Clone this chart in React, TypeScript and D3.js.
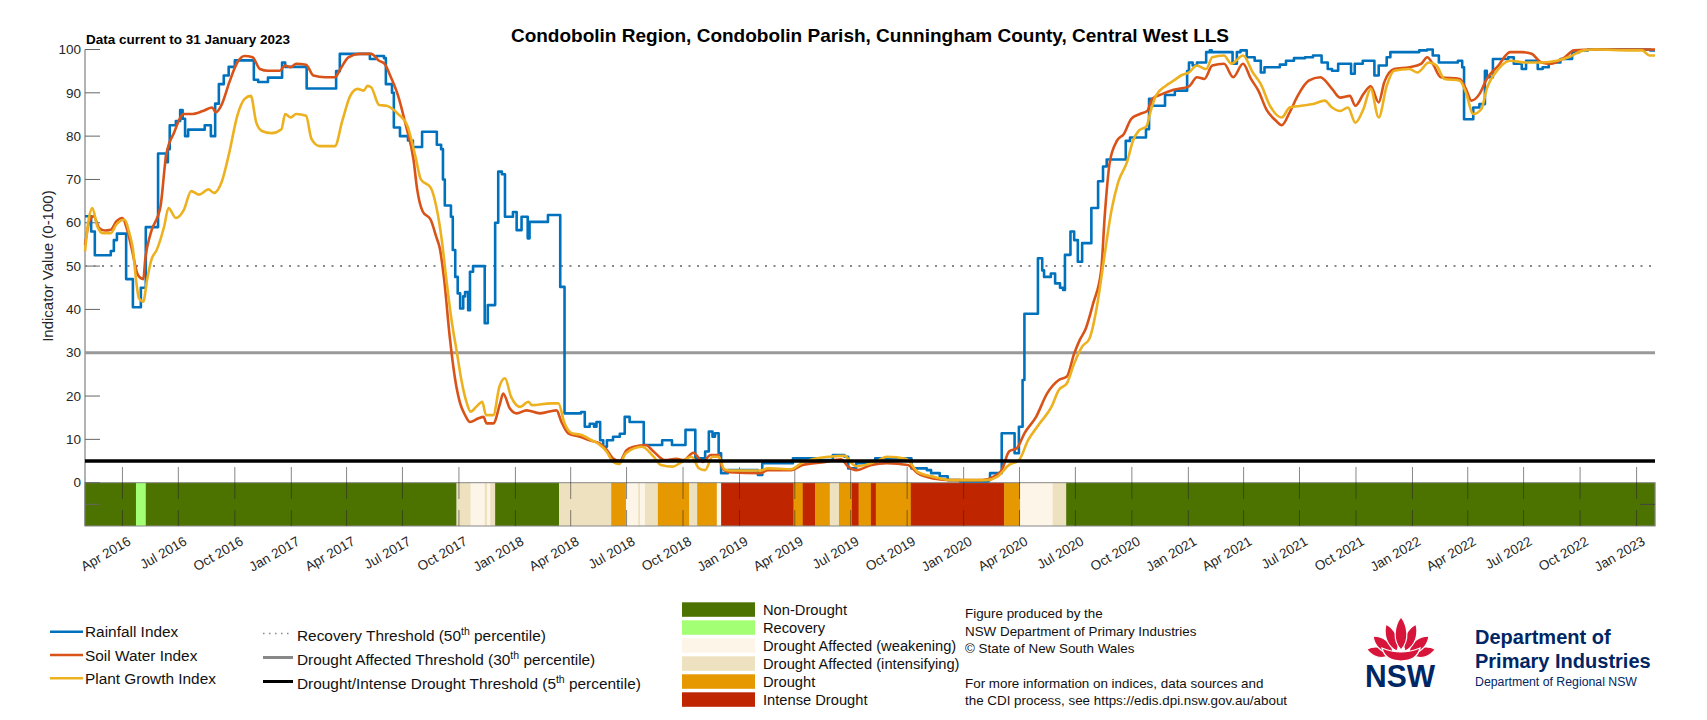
import * as d3 from "d3";

type Pt = [string, number];

const title = "Condobolin Region, Condobolin Parish, Cunningham County, Central West LLS";
const currentNote = "Data current to 31 January 2023";
const yLabel = "Indicator Value (0-100)";
const startDate = "2016-01-31";
const endDate = "2023-01-31";

// Rainfall Index - stepped, value holds until next date
const rainfallIndex: Pt[] = [
  ["2016-01-31", 61.5], ["2016-02-10", 58], ["2016-02-16", 52.5], ["2016-03-13", 53.5], ["2016-03-18", 56],
  ["2016-03-23", 57.5], ["2016-04-07", 47], ["2016-04-18", 40.5], ["2016-05-01", 45], ["2016-05-09", 59],
  ["2016-05-29", 76], ["2016-06-11", 74], ["2016-06-14", 77], ["2016-06-17", 82.5], ["2016-06-27", 83.5],
  ["2016-07-04", 86], ["2016-07-08", 84], ["2016-07-12", 80], ["2016-07-17", 81.5], ["2016-08-13", 82.5],
  ["2016-08-23", 80], ["2016-08-30", 87.5], ["2016-09-05", 92], ["2016-09-13", 94], ["2016-09-21", 96],
  ["2016-10-01", 97.5], ["2016-11-01", 93], ["2016-11-08", 92.5], ["2016-11-24", 93.5], ["2016-12-17", 97],
  ["2016-12-22", 96], ["2017-01-26", 91], ["2017-03-15", 95], ["2017-03-21", 99], ["2017-05-09", 97.8],
  ["2017-05-19", 98.5], ["2017-06-01", 98], ["2017-06-04", 92], ["2017-06-14", 90], ["2017-06-17", 82],
  ["2017-06-27", 80], ["2017-07-10", 79], ["2017-07-18", 77.5], ["2017-08-02", 81], ["2017-08-26", 78],
  ["2017-09-02", 77], ["2017-09-05", 70], ["2017-09-08", 64], ["2017-09-18", 61.4], ["2017-09-21", 53.7],
  ["2017-09-25", 47.5], ["2017-09-29", 43.7], ["2017-10-03", 40.2], ["2017-10-08", 43], ["2017-10-11", 44],
  ["2017-10-16", 39.8], ["2017-10-19", 48.7], ["2017-10-24", 50], ["2017-11-12", 36.8], ["2017-11-17", 41],
  ["2017-11-29", 60], ["2017-12-04", 71.8], ["2017-12-10", 71.2], ["2017-12-15", 61.4], ["2017-12-28", 62.5],
  ["2018-01-03", 58.3], ["2018-01-11", 61.4], ["2018-01-21", 56.4], ["2018-01-24", 60.2], ["2018-02-23", 61.8],
  ["2018-03-15", 45.2], ["2018-03-22", 16], ["2018-04-18", 16.3], ["2018-04-24", 12.9], ["2018-05-02", 13.6],
  ["2018-05-09", 12.9], ["2018-05-13", 14], ["2018-05-19", 9.8], ["2018-05-24", 8.3], ["2018-05-30", 9.8],
  ["2018-06-09", 10.6], ["2018-06-20", 11.3], ["2018-06-28", 15.2], ["2018-07-06", 14], ["2018-07-29", 8.7],
  ["2018-08-28", 9.8], ["2018-09-13", 8.7], ["2018-10-05", 12.2], ["2018-10-21", 5.6], ["2018-11-06", 7.2],
  ["2018-11-12", 11.8], ["2018-11-18", 10.6], ["2018-11-22", 11.4], ["2018-11-28", 6.8], ["2018-12-02", 2.2],
  ["2018-12-13", 2.9], ["2019-01-31", 1.8], ["2019-02-07", 4.5], ["2019-03-29", 5.6], ["2019-05-09", 5.2],
  ["2019-06-02", 6.4], ["2019-06-21", 6], ["2019-06-27", 3.3], ["2019-07-10", 4.5], ["2019-08-10", 5.6],
  ["2019-10-08", 3.3], ["2019-11-02", 2.9], ["2019-11-09", 2.2], ["2019-11-23", 1.5], ["2019-12-06", 0.6],
  ["2019-12-26", 0.3], ["2020-02-10", 0.6], ["2020-02-13", 2.2], ["2020-03-03", 11.4], ["2020-03-24", 6.8],
  ["2020-03-31", 12.9], ["2020-04-06", 23.7], ["2020-04-09", 39], ["2020-05-01", 51.8], ["2020-05-08", 49],
  ["2020-05-11", 47.5], ["2020-05-22", 48.3], ["2020-05-29", 46], ["2020-06-06", 45], ["2020-06-11", 44.5],
  ["2020-06-14", 52.6], ["2020-06-23", 58], ["2020-06-29", 56], ["2020-07-05", 51], ["2020-07-12", 55.3],
  ["2020-07-27", 63.4], ["2020-08-07", 69.6], ["2020-08-15", 73], ["2020-08-21", 74.6], ["2020-09-21", 78.9],
  ["2020-09-28", 79.7], ["2020-10-24", 81.6], ["2020-10-29", 88.6], ["2020-11-03", 87], ["2020-11-24", 89.5],
  ["2020-12-10", 90.5], ["2020-12-30", 95], ["2021-01-02", 97], ["2021-01-08", 96.3], ["2021-01-15", 97],
  ["2021-01-30", 99.4], ["2021-02-05", 99.8], ["2021-02-08", 99.4], ["2021-03-14", 96.7], ["2021-03-21", 99.4],
  ["2021-03-27", 99.8], ["2021-04-06", 98.2], ["2021-04-19", 97.4], ["2021-04-29", 94.7], ["2021-05-05", 95.9],
  ["2021-05-30", 96.5], ["2021-06-09", 97.4], ["2021-06-22", 98], ["2021-07-10", 98.2], ["2021-07-23", 98.6],
  ["2021-08-06", 97], ["2021-08-16", 95.5], ["2021-08-23", 95.1], ["2021-09-02", 96.7], ["2021-09-23", 94.4],
  ["2021-09-29", 96.7], ["2021-10-12", 97.4], ["2021-10-31", 94], ["2021-11-07", 96.3], ["2021-11-20", 98.2],
  ["2021-11-26", 99.4], ["2022-01-12", 99.8], ["2022-01-25", 100], ["2022-02-03", 98.6], ["2022-02-13", 97],
  ["2022-03-16", 97.4], ["2022-03-23", 95.9], ["2022-03-26", 83.9], ["2022-04-10", 86.6], ["2022-04-20", 87.4],
  ["2022-04-29", 95.1], ["2022-05-02", 93.6], ["2022-05-12", 97.8], ["2022-06-06", 98.2], ["2022-06-15", 96.7],
  ["2022-06-28", 95.5], ["2022-07-05", 97.4], ["2022-07-24", 95.5], ["2022-08-01", 95.9], ["2022-08-11", 97],
  ["2022-08-30", 97.8], ["2022-09-18", 99.4], ["2022-09-30", 99.8], ["2022-10-14", 100], ["2023-01-23", 99.8],
  ["2023-01-31", 99.8],
];

const soilWaterIndex: Pt[] = [
  ["2016-01-31", 54.9], ["2016-02-08", 60.7], ["2016-02-14", 61.5], ["2016-02-23", 58.8], ["2016-03-03", 58.2],
  ["2016-03-13", 58.4], ["2016-03-22", 60.3], ["2016-04-01", 61.1], ["2016-04-07", 59.2], ["2016-04-16", 54.1],
  ["2016-04-26", 48], ["2016-05-05", 47], ["2016-05-08", 51.4], ["2016-05-17", 57.6], ["2016-06-02", 63.8],
  ["2016-06-11", 75.4], ["2016-06-24", 80.8], ["2016-07-10", 85.1], ["2016-07-22", 85.1], ["2016-08-10", 85.8],
  ["2016-08-25", 86.6], ["2016-08-31", 85.5], ["2016-09-10", 87.4], ["2016-09-22", 92.4], ["2016-10-05", 97],
  ["2016-10-17", 98.5], ["2016-10-30", 98.2], ["2016-11-11", 95.5], ["2016-11-24", 95.1], ["2016-12-13", 95.1],
  ["2016-12-22", 96.3], ["2016-12-31", 95.9], ["2017-01-09", 96.7], ["2017-01-25", 96.5], ["2017-02-06", 94],
  ["2017-02-25", 93.6], ["2017-03-13", 93.6], ["2017-03-22", 95.5], ["2017-04-04", 98.2], ["2017-04-22", 99],
  ["2017-05-11", 99], ["2017-05-24", 97.4], ["2017-06-02", 96.7], ["2017-06-11", 94], ["2017-06-24", 89.3],
  ["2017-07-06", 82.8], ["2017-07-19", 74.6], ["2017-07-25", 67.7], ["2017-08-03", 62.6], ["2017-08-16", 60.7],
  ["2017-08-25", 56.8], ["2017-08-31", 54], ["2017-09-07", 46.8], ["2017-09-16", 33.7], ["2017-09-25", 23.7],
  ["2017-10-03", 18.3], ["2017-10-11", 15.6], ["2017-10-19", 14], ["2017-11-01", 14.8], ["2017-11-10", 15.2],
  ["2017-11-15", 13.7], ["2017-11-26", 13.7], ["2017-12-07", 18.3], ["2017-12-12", 20.6], ["2017-12-23", 17.1],
  ["2018-01-03", 16], ["2018-01-19", 16.7], ["2018-02-10", 16], ["2018-03-09", 16.7], ["2018-03-17", 14],
  ["2018-03-28", 11.4], ["2018-04-16", 10.6], ["2018-05-02", 9.8], ["2018-05-19", 9], ["2018-05-30", 7.5],
  ["2018-06-09", 5.6], ["2018-06-20", 5], ["2018-07-01", 7.5], ["2018-07-13", 8.3], ["2018-08-01", 8.7],
  ["2018-08-14", 7.2], ["2018-09-01", 5.2], ["2018-09-20", 5.5], ["2018-10-02", 5.2], ["2018-10-18", 6.9],
  ["2018-11-02", 4.8], ["2018-11-15", 6.4], ["2018-11-28", 6.4], ["2018-12-04", 3.3], ["2018-12-16", 2.4],
  ["2019-02-04", 2.2], ["2019-02-16", 2.9], ["2019-03-26", 2.9], ["2019-04-14", 4.1], ["2019-05-21", 4.8],
  ["2019-06-15", 5.4], ["2019-06-27", 3.7], ["2019-07-10", 2.9], ["2019-08-04", 4.1], ["2019-08-29", 4.5],
  ["2019-10-02", 4.1], ["2019-10-18", 2.2], ["2019-11-12", 1], ["2019-12-13", 0.6], ["2020-01-31", 0.6],
  ["2020-02-19", 1.4], ["2020-03-03", 2.9], ["2020-03-15", 7.2], ["2020-03-28", 8], ["2020-04-09", 11.4],
  ["2020-04-28", 15.2], ["2020-05-16", 20.6], ["2020-06-04", 23.7], ["2020-06-17", 24.5], ["2020-06-29", 29.8],
  ["2020-07-08", 32.9], ["2020-07-18", 35.6], ["2020-07-30", 41.4], ["2020-08-12", 49], ["2020-08-18", 62],
  ["2020-08-26", 74], ["2020-09-07", 79], ["2020-09-18", 80.5], ["2020-09-30", 84], ["2020-10-14", 85.1],
  ["2020-10-26", 85.8], ["2020-11-03", 88.6], ["2020-11-19", 89.7], ["2020-12-08", 90.7], ["2021-01-02", 91.5],
  ["2021-01-15", 93.6], ["2021-01-27", 93.2], ["2021-02-09", 96.3], ["2021-02-28", 96.7], ["2021-03-15", 93.6],
  ["2021-03-31", 96.7], ["2021-04-13", 93.2], ["2021-04-25", 90.5], ["2021-05-08", 86.2], ["2021-05-24", 83.5],
  ["2021-06-02", 82.5], ["2021-06-15", 85.5], ["2021-06-28", 89.3], ["2021-07-16", 92.8], ["2021-08-04", 93.6],
  ["2021-08-23", 90.9], ["2021-09-05", 88.9], ["2021-09-21", 89.3], ["2021-09-30", 87], ["2021-10-13", 89.7],
  ["2021-10-25", 91.5], ["2021-11-07", 87.8], ["2021-11-16", 92.4], ["2021-12-02", 95.5], ["2021-12-27", 95.9],
  ["2022-01-15", 96.7], ["2022-01-25", 98.2], ["2022-02-03", 96.7], ["2022-02-16", 93.6], ["2022-03-19", 93.2],
  ["2022-03-29", 90.9], ["2022-04-07", 88.2], ["2022-04-20", 89.7], ["2022-05-02", 93.2], ["2022-05-21", 96.3],
  ["2022-06-09", 99.4], ["2022-06-28", 99.4], ["2022-07-14", 99], ["2022-07-30", 97], ["2022-08-14", 96.7],
  ["2022-09-06", 98.2], ["2022-09-21", 99.8], ["2022-10-26", 100], ["2023-01-31", 100],
];

const plantGrowthIndex: Pt[] = [
  ["2016-01-31", 53.4], ["2016-02-06", 60.7], ["2016-02-12", 63.4], ["2016-02-20", 59.2], ["2016-02-29", 57.6],
  ["2016-03-13", 57.6], ["2016-03-22", 59.6], ["2016-04-04", 60.7], ["2016-04-13", 57.2], ["2016-04-18", 54],
  ["2016-04-23", 47], ["2016-04-28", 42.5], ["2016-05-05", 41.8], ["2016-05-11", 46.8], ["2016-05-18", 51.4],
  ["2016-05-27", 53.8], ["2016-06-08", 59.2], ["2016-06-15", 63.4], ["2016-06-27", 61.1], ["2016-07-10", 63],
  ["2016-07-22", 67.3], ["2016-08-04", 66.5], ["2016-08-19", 67.7], ["2016-08-28", 66.9], ["2016-09-10", 69.6],
  ["2016-09-22", 76.2], ["2016-10-05", 84.7], ["2016-10-17", 88.6], ["2016-10-27", 89.3], ["2016-11-05", 83.1],
  ["2016-11-14", 81.2], ["2016-11-30", 80.7], ["2016-12-16", 81.6], ["2016-12-22", 85.1], ["2016-12-31", 84.3],
  ["2017-01-09", 85.1], ["2017-01-25", 84.7], ["2017-02-03", 79.3], ["2017-02-16", 77.7], ["2017-03-13", 77.7],
  ["2017-03-25", 83.5], ["2017-04-07", 89.3], ["2017-04-19", 90.9], ["2017-04-29", 90.5], ["2017-05-05", 91.6],
  ["2017-05-11", 91.3], ["2017-05-24", 87.2], ["2017-06-05", 87], ["2017-06-24", 85.1], ["2017-07-09", 82.4],
  ["2017-07-22", 75.4], ["2017-07-31", 70], ["2017-08-16", 68.1], ["2017-08-25", 63.8], ["2017-09-03", 56.1],
  ["2017-09-10", 47.6], ["2017-09-19", 37.5], ["2017-09-28", 29.8], ["2017-10-05", 23.7], ["2017-10-14", 18.3],
  ["2017-10-20", 16.4], ["2017-10-29", 17.5], ["2017-11-08", 18.7], ["2017-11-14", 15.6], ["2017-11-26", 15.6],
  ["2017-12-06", 22.2], ["2017-12-15", 24.1], ["2017-12-25", 19.8], ["2018-01-09", 17.5], ["2018-01-22", 18.7],
  ["2018-01-28", 17.9], ["2018-02-28", 18.3], ["2018-03-12", 18.3], ["2018-03-22", 13.7], ["2018-04-03", 11.4],
  ["2018-04-19", 11], ["2018-05-05", 9.8], ["2018-05-17", 8.9], ["2018-05-30", 7.1], ["2018-06-09", 4.8],
  ["2018-06-19", 4.3], ["2018-06-30", 6.8], ["2018-07-26", 8.3], ["2018-08-14", 6], ["2018-08-26", 4.1],
  ["2018-09-14", 3.7], ["2018-09-26", 4.5], ["2018-10-15", 6], ["2018-10-27", 3.3], ["2018-11-06", 2.9],
  ["2018-11-18", 6], ["2018-11-28", 6], ["2018-12-07", 3.1], ["2018-12-16", 2.8], ["2019-02-04", 2.8],
  ["2019-02-16", 3.3], ["2019-03-26", 3.1], ["2019-04-14", 4.7], ["2019-05-27", 6], ["2019-06-21", 6.2],
  ["2019-07-04", 4.3], ["2019-07-10", 3.8], ["2019-08-10", 4.8], ["2019-08-29", 6], ["2019-09-29", 5.5],
  ["2019-10-18", 2.5], ["2019-11-12", 1.4], ["2019-12-13", 0.6], ["2020-02-07", 0.6], ["2020-02-25", 1.4],
  ["2020-03-15", 4.1], ["2020-03-31", 5.2], ["2020-04-15", 9.8], ["2020-05-04", 13.7], ["2020-05-23", 17.5],
  ["2020-06-04", 21.4], ["2020-06-17", 22.9], ["2020-06-29", 27.5], ["2020-07-12", 31.4], ["2020-07-24", 33.3],
  ["2020-08-06", 41.4], ["2020-08-16", 51], ["2020-08-29", 63], ["2020-09-09", 69.5], ["2020-09-23", 74],
  ["2020-10-03", 79], ["2020-10-12", 81.2], ["2020-10-25", 82.3], ["2020-10-31", 85.5], ["2020-11-09", 89.3],
  ["2020-11-25", 91.6], ["2020-12-08", 92.8], ["2020-12-20", 94], ["2021-01-02", 94.7], ["2021-01-15", 96.3],
  ["2021-01-30", 95.5], ["2021-02-09", 98.2], ["2021-02-28", 98.6], ["2021-03-12", 96.7], ["2021-03-31", 98.6],
  ["2021-04-16", 94.7], ["2021-04-29", 92], ["2021-05-14", 87], ["2021-06-02", 84.3], ["2021-06-15", 86.6],
  ["2021-07-04", 87], ["2021-07-23", 87.4], ["2021-08-11", 88.2], ["2021-08-23", 86.6], ["2021-09-05", 85.8],
  ["2021-09-18", 86.6], ["2021-09-30", 83.1], ["2021-10-13", 86.2], ["2021-10-25", 90.9], ["2021-11-07", 84.3],
  ["2021-11-20", 91.6], ["2021-12-02", 95.1], ["2021-12-27", 95.5], ["2022-01-09", 94.7], ["2022-01-28", 97],
  ["2022-02-09", 96.3], ["2022-02-22", 93.2], ["2022-03-19", 92.8], ["2022-03-29", 90.1], ["2022-04-10", 85.1],
  ["2022-04-23", 86.2], ["2022-05-02", 90.9], ["2022-05-21", 95.5], ["2022-06-09", 97.4], ["2022-07-05", 97],
  ["2022-07-30", 97], ["2022-08-24", 97.4], ["2022-09-12", 98.2], ["2022-10-07", 99.8], ["2022-10-26", 100],
  ["2022-12-22", 99.8], ["2023-01-10", 99.8], ["2023-01-22", 98.6], ["2023-01-31", 98.6],
];

// drought phase categories and the date each phase begins
const phaseNames = [
  "Non-Drought",
  "Recovery",
  "Drought Affected (weakening)",
  "Drought Affected (intensifying)",
  "Drought",
  "Intense Drought",
];
const phaseColors = ["#4c7300", "#a3ff73", "#fdf5e8", "#eee1bf", "#e69800", "#bf2600"];
const phaseChanges: [string, string][] = [
  ["2016-01-31", "Non-Drought"], ["2016-04-23", "Recovery"], ["2016-05-09", "Non-Drought"],
  ["2017-09-27", "Drought Affected (intensifying)"], ["2017-10-20", "Drought Affected (weakening)"],
  ["2017-11-12", "Drought Affected (intensifying)"], ["2017-11-16", "Drought Affected (weakening)"],
  ["2017-11-21", "Drought Affected (intensifying)"], ["2017-11-29", "Non-Drought"],
  ["2018-03-13", "Drought Affected (intensifying)"], ["2018-06-06", "Drought"],
  ["2018-06-30", "Drought Affected (weakening)"], ["2018-07-20", "Drought Affected (intensifying)"],
  ["2018-07-23", "Drought Affected (weakening)"], ["2018-07-31", "Drought Affected (intensifying)"],
  ["2018-08-21", "Drought"], ["2018-10-11", "Drought Affected (intensifying)"], ["2018-10-24", "Drought"],
  ["2018-11-25", "Drought Affected (weakening)"], ["2018-12-02", "Intense Drought"],
  ["2019-03-30", "Drought"], ["2019-04-14", "Intense Drought"], ["2019-05-04", "Drought"],
  ["2019-05-28", "Drought Affected (intensifying)"], ["2019-06-12", "Drought"],
  ["2019-07-03", "Intense Drought"], ["2019-07-14", "Drought"], ["2019-08-03", "Intense Drought"],
  ["2019-08-11", "Drought"], ["2019-10-07", "Intense Drought"], ["2020-03-07", "Drought"],
  ["2020-04-02", "Drought Affected (weakening)"], ["2020-05-25", "Drought Affected (intensifying)"],
  ["2020-06-16", "Non-Drought"],
];

const seriesNames = ["Rainfall Index", "Soil Water Index", "Plant Growth Index"];
const seriesColors = ["#0072bd", "#d95319", "#edb120"];

const thresholdValues = [50, 30, 5];
const thresholdPrefix = ["Recovery Threshold (", "Drought Affected Threshold (", "Drought/Intense Drought Threshold ("];
const thresholdPct = ["50", "30", "5"];

const yTickValues = [0, 10, 20, 30, 40, 50, 60, 70, 80, 90, 100];

const creditLines = [
  "Figure produced by the",
  "NSW Department of Primary Industries",
  "\u00a9 State of New South Wales",
  "",
  "For more information on indices, data sources and",
  "the CDI process, see https://edis.dpi.nsw.gov.au/about",
];

const FONT = "'Liberation Sans', Arial, Helvetica, sans-serif";
const parse = d3.timeParse("%Y-%m-%d");

// waratah petals: [angle, length, half width, base dx, base dy]
const petals: number[][] = [
  [-76, 24, 5.5, -11, 3], [76, 24, 5.5, 11, 3],
  [-50, 26, 6, -8, 1], [50, 26, 6, 8, 1],
  [-22, 29, 6, -4, -1], [22, 29, 6, 4, -1],
  [0, 33, 6.5, 0, -2],
];

function petalPath(len: number, w: number) {
  return `M0,0 C${w * 1.4},${-len * 0.3} ${w},${-len * 0.75} 0,${-len} C${-w},${-len * 0.75} ${-w * 1.4},${-len * 0.3} 0,0 Z`;
}

export default function App() {
  const x = d3
    .scaleTime()
    .domain([parse(startDate)!, parse(endDate)!])
    .range([85, 1655]);
  const y = d3.scaleLinear().domain([-10, 100]).range([526, 49.5]);

  const smooth = d3
    .line<Pt>()
    .x((d) => x(parse(d[0])!))
    .y((d) => y(d[1]))
    .curve(d3.curveMonotoneX);
  const stepped = d3
    .line<Pt>()
    .x((d) => x(parse(d[0])!))
    .y((d) => y(d[1]))
    .curve(d3.curveStepAfter);

  const xTicks = x.ticks(d3.timeMonth.every(3)!);
  const fmt = d3.timeFormat("%b %Y");

  const phaseColor = d3.scaleOrdinal<string, string>().domain(phaseNames).range(phaseColors);
  const segs = phaseChanges.map((p, i) => {
    const x0 = x(parse(p[0])!);
    const x1 = x(parse(i < phaseChanges.length - 1 ? phaseChanges[i + 1][0] : endDate)!);
    return { x0, x1, name: p[1] };
  });

  const series = [rainfallIndex, soilWaterIndex, plantGrowthIndex];
  const y0 = y(0);
  const yb = y(-10);

  return (
    <svg
      width={1707}
      height={720}
      style={{ position: "absolute", left: 0, top: 0, background: "#fff" }}
      fontFamily={FONT}
    >
      <rect width={1707} height={720} fill="#fff" />

      {/* drought phase strip */}
      {segs.map((s, i) => (
        <rect key={i} x={s.x0} y={y0} width={s.x1 - s.x0 + 0.3} height={yb - y0} fill={phaseColor(s.name)} />
      ))}
      <rect x={85} y={y0} width={1570} height={yb - y0} fill="none" stroke="#888" strokeWidth={1} />

      {/* x ticks */}
      {xTicks.map((t, i) => (
        <g key={i} stroke="#262626" strokeOpacity={0.55} strokeWidth={1}>
          <line x1={x(t)} x2={x(t)} y1={467} y2={499} />
          <line x1={x(t)} x2={x(t)} y1={510} y2={yb} />
        </g>
      ))}
      {xTicks.map((t, i) => (
        <text
          key={i}
          transform={`translate(${x(t) + 7},${540}) rotate(-30)`}
          textAnchor="end"
          dy="0.35em"
          fontSize={13.5}
          fill="#262626"
        >
          {fmt(t)}
        </text>
      ))}

      {/* y axis */}
      <line x1={85} x2={85} y1={y(100)} y2={yb} stroke="#666" strokeWidth={1} />
      {[...yTickValues, -5].map((v) => (
        <line key={v} x1={85} x2={100} y1={y(v)} y2={y(v)} stroke="#666" strokeWidth={1} />
      ))}
      <line x1={1640} x2={1655} y1={y(-5)} y2={y(-5)} stroke="#444" strokeWidth={1} />
      {yTickValues.map((v) => (
        <text key={v} x={81} y={y(v)} dy="0.35em" textAnchor="end" fontSize={13.5} fill="#262626">
          {v}
        </text>
      ))}
      <text
        transform={`translate(48,${y(50)}) rotate(-90)`}
        textAnchor="middle"
        dy="0.35em"
        fontSize={15}
        fill="#262626"
      >
        {yLabel}
      </text>

      {/* thresholds */}
      <line x1={85} x2={1655} y1={y(thresholdValues[0])} y2={y(thresholdValues[0])} stroke="#888" strokeWidth={2} strokeDasharray="2 6.5" />
      <line x1={85} x2={1655} y1={y(thresholdValues[1])} y2={y(thresholdValues[1])} stroke="#999" strokeWidth={3} />

      {/* index lines */}
      {series.map((s, i) => (
        <path
          key={i}
          d={(i === 0 ? stepped(s) : smooth(s)) || ""}
          fill="none"
          stroke={seriesColors[i]}
          strokeWidth={2.6}
          strokeLinejoin="round"
        />
      ))}
      <line x1={85} x2={1655} y1={y(thresholdValues[2])} y2={y(thresholdValues[2])} stroke="#000" strokeWidth={3.5} />

      {/* titles */}
      <text x={870} y={42} textAnchor="middle" fontSize={19} fontWeight="bold" fill="#000">
        {title}
      </text>
      <text x={86} y={44} fontSize={13.5} fontWeight="bold" fill="#000">
        {currentNote}
      </text>

      {/* series legend */}
      {seriesNames.map((n, i) => (
        <g key={n}>
          <line x1={50} x2={83} y1={631.7 + i * 23.3} y2={631.7 + i * 23.3} stroke={seriesColors[i]} strokeWidth={2.6} />
          <text x={85} y={632 + i * 23.3} dy="0.35em" fontSize={15.4} fill="#111">
            {n}
          </text>
        </g>
      ))}

      {/* threshold legend */}
      {thresholdPrefix.map((p, i) => {
        const ly = 633.5 + i * 24;
        return (
          <g key={p}>
            {i === 0 && <line x1={263} x2={293} y1={ly} y2={ly} stroke="#888" strokeWidth={1.5} strokeDasharray="1.5 4.5" />}
            {i === 1 && <line x1={263} x2={293} y1={ly} y2={ly} stroke="#888" strokeWidth={3} />}
            {i === 2 && <line x1={263} x2={293} y1={ly} y2={ly} stroke="#000" strokeWidth={3} />}
            <text x={297} y={ly + 2} dy="0.35em" fontSize={15.4} fill="#111">
              {p}
              {thresholdPct[i]}
              <tspan fontSize={10.5} dy={-6}>th</tspan>
              <tspan dy={6}> percentile)</tspan>
            </text>
          </g>
        );
      })}

      {/* phase legend */}
      {phaseNames.map((n, i) => (
        <g key={n}>
          <rect x={682} y={602.3 + i * 18} width={73} height={14.5} fill={phaseColors[i]} />
          <text x={763} y={609.5 + i * 18} dy="0.35em" fontSize={14.7} fill="#111">
            {n}
          </text>
        </g>
      ))}

      {/* credits */}
      {creditLines.map((t, i) => (
        <text key={i} x={965} y={613.5 + i * 17.4} dy="0.35em" fontSize={13.4} fill="#111">
          {t}
        </text>
      ))}

      {/* NSW logo */}
      <g transform="translate(1401,652)">
        {petals.map((p, i) => (
          <path
            key={i}
            d={petalPath(p[1], p[2])}
            transform={`translate(${p[3]},${p[4]}) rotate(${p[0]})`}
            fill="#d7153a"
            stroke="#fff"
            strokeWidth={1.2}
          />
        ))}
        <path d="M-19,-4 Q0,4 19,-4 Q16,9 0,9 Q-16,9 -19,-4 Z" fill="#d7153a" stroke="#fff" strokeWidth={1.2} />
      </g>
      <text x={1365} y={687} fontSize={32} fontWeight="bold" fill="#002664" textLength={70} lengthAdjust="spacingAndGlyphs">
        NSW
      </text>
      <text x={1475} y={643.5} fontSize={20} fontWeight="bold" fill="#002664">
        Department of
      </text>
      <text x={1475} y={667.5} fontSize={20} fontWeight="bold" fill="#002664">
        Primary Industries
      </text>
      <text x={1475} y={686} fontSize={12.3} fill="#002664">
        Department of Regional NSW
      </text>
    </svg>
  );
}
